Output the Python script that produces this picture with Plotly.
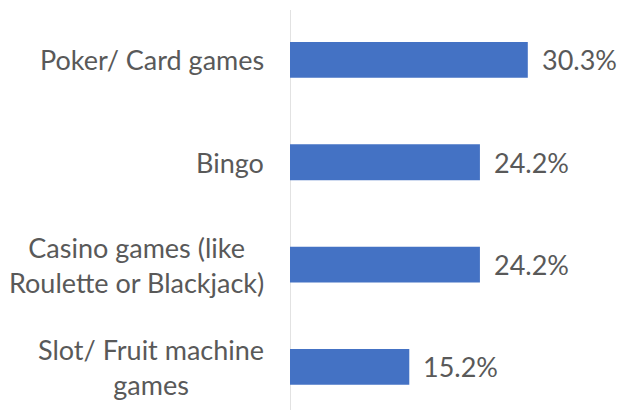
import plotly.graph_objects as go

# Share of respondents by type of game played
categories = [
    "Poker/ Card games",
    "Bingo",
    "Casino games (like<br>Roulette or Blackjack)",
    "Slot/ Fruit machine<br>games",
]
values = [30.3, 24.2, 24.2, 15.2]
value_labels = ["30.3%", "24.2%", "24.2%", "15.2%"]

BAR_COLOR = "#4472C4"
TEXT_COLOR = "#595959"
FONT = "Lato"
FONT_SIZE = 27

positions = list(range(len(categories)))

fig = go.Figure()
fig.add_trace(
    go.Bar(
        x=values,
        y=positions,
        orientation="h",
        width=0.35,
        marker=dict(color=BAR_COLOR, line=dict(width=0)),
        hoverinfo="skip",
    )
)

# category labels, right-aligned to the left of the axis line, centred lines
for pos, cat in zip(positions, categories):
    fig.add_annotation(
        x=0, y=pos, xref="x", yref="y",
        text=cat, showarrow=False,
        xanchor="right", yanchor="middle", align="center",
        xshift=-24,
        font=dict(family=FONT, size=FONT_SIZE, color=TEXT_COLOR),
    )

# value labels just past the end of each bar
for pos, val, lab in zip(positions, values, value_labels):
    fig.add_annotation(
        x=val, y=pos, xref="x", yref="y",
        text=lab, showarrow=False,
        xanchor="left", yanchor="middle",
        xshift=12,
        font=dict(family=FONT, size=FONT_SIZE, color=TEXT_COLOR),
    )

# vertical axis line
fig.add_shape(
    type="line", xref="x", yref="paper",
    x0=0, x1=0, y0=0, y1=400 / 410,
    line=dict(color="#D9D9D9", width=1.5),
    layer="below",
)

fig.update_layout(
    width=617, height=410,
    margin=dict(l=290, r=17, t=0, b=0),
    paper_bgcolor="white", plot_bgcolor="white",
    showlegend=False,
    bargap=0.65,
    font=dict(family=FONT, size=FONT_SIZE, color=TEXT_COLOR),
)
fig.update_xaxes(
    range=[0, 39.5], visible=False, showgrid=False, zeroline=False, fixedrange=True,
)
fig.update_yaxes(
    range=[3.422, -0.586], visible=False, showgrid=False, zeroline=False, fixedrange=True,
)

fig.write_html("out.html", config={"displayModeBar": False})
